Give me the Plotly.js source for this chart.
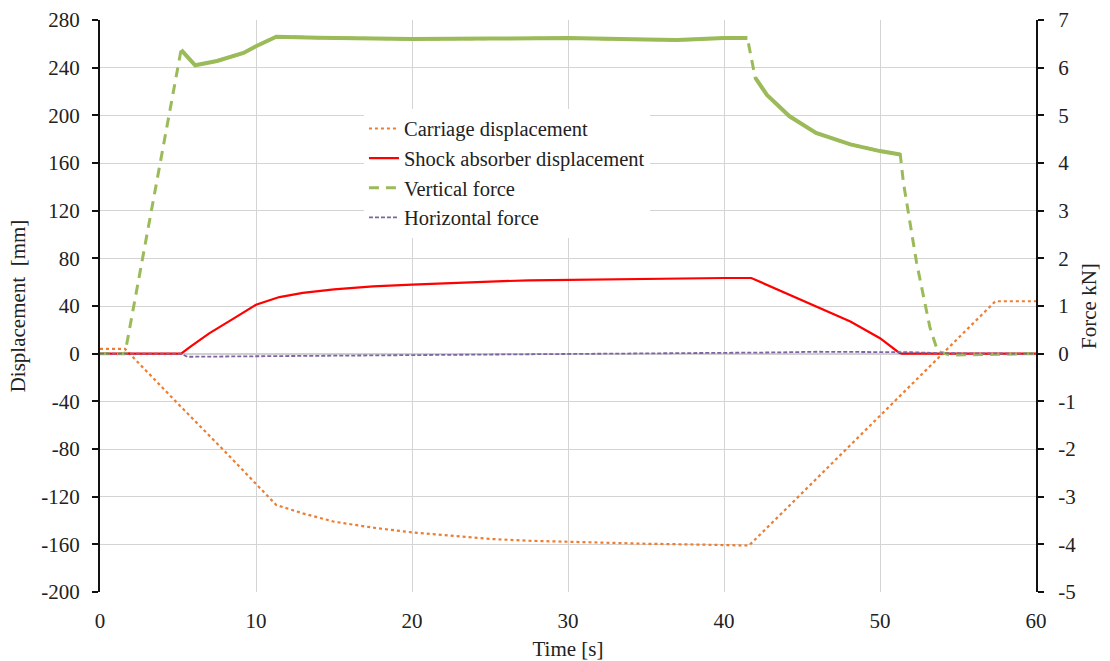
<!DOCTYPE html>
<html>
<head>
<meta charset="utf-8">
<script src="https://cdn.plot.ly/plotly-3.0.1.min.js"></script>
<style>html,body{margin:0;padding:0;background:#fff;}#chart{width:1110px;height:661px;}</style>
</head>
<body>
<div id="chart"></div>
<script>
// Carriage displacement [mm] (left axis)
const carT = [0, 1.6, 5, 8, 11.3, 13, 15, 17.5, 20, 22.5, 25, 27.5, 30, 32.5, 35, 37.5, 40, 41.6, 44, 47, 50, 53, 55, 57.4, 60];
const carY = [4, 4, -42, -82, -127, -134, -141, -146, -150, -153, -155.5, -157, -158, -159, -159.5, -160, -160.7, -161, -130, -91, -52, -13, 13, 44, 44];

// Shock absorber displacement [mm] (left axis)
const shT = [0, 5.2, 5.8, 7, 8.5, 10, 11.5, 13, 15, 17.5, 20, 22.5, 25, 27.5, 30, 35, 40, 41.75, 43.6, 45.5, 48.1, 50, 51.2, 51.4, 60];
const shY = [0, 0, 6, 17, 29, 41, 47.5, 51, 54, 56.5, 58, 59.5, 60.5, 61.5, 62, 63, 63.5, 63.5, 53, 42.4, 27, 13, 1, 0, 0];

// Vertical force [kN] (right axis)
const vfT = [0, 1.6, 5.2, 6.1, 7.5, 9.2, 10, 11.3, 14, 20, 25, 30, 35, 37, 40, 41.5, 42, 42.75, 44.2, 45.9, 48.1, 50, 51.3, 51.5, 52.35, 53.2, 53.7, 54.5, 60];
const vfY = [0, 0, 6.375, 6.05, 6.14, 6.31, 6.45, 6.65, 6.63, 6.6, 6.61, 6.62, 6.59, 6.58, 6.62, 6.62, 5.79, 5.43, 4.98, 4.63, 4.39, 4.25, 4.18, 3.59, 1.9, 0.55, 0.05, -0.03, 0];

// Horizontal force [kN] (right axis)
const hfT = [0, 5.2, 5.6, 8, 10, 12, 16, 20, 25, 30, 35, 40, 43, 46, 50, 52, 54, 57, 60];
const hfY = [0, 0, -0.065, -0.06, -0.06, -0.05, -0.04, -0.03, -0.02, -0.01, 0, 0.01, 0.025, 0.04, 0.04, 0.03, 0.01, 0, 0];

// Tick values and labels
const xTicks = [0, 10, 20, 30, 40, 50, 60];
const yTicks = [-200, -160, -120, -80, -40, 0, 40, 80, 120, 160, 200, 240, 280];
const yTickText = ['-200', '-160', '-120', '-80', '-40', '0', '40', '80', '120', '160', '200', '240', '280'];
const y2Ticks = [-5, -4, -3, -2, -1, 0, 1, 2, 3, 4, 5, 6, 7];
const y2TickText = ['-5', '-4', '-3', '-2', '-1', '0', '1', '2', '3', '4', '5', '6', '7'];

// noisy (visually solid) stretches of the vertical force record
const solidRanges = [[5.2, 41.5], [42, 51.3]];
const vsT = [], vsY = [];
solidRanges.forEach(function (r, k) {
  if (k > 0) { vsT.push(null); vsY.push(null); }
  vfT.forEach(function (t, i) { if (t >= r[0] && t <= r[1]) { vsT.push(t); vsY.push(vfY[i]); } });
});

const FONT = 'Liberation Serif';
const TXT = '#222';
const GREEN = '#9bbb59', ORANGE = '#ed7d31', RED = '#ff0000', PURPLE = '#7f64a2';
const tf = {family: FONT, size: 21, color: TXT};

const traces = [
  {x: carT, y: carY, name: 'Carriage displacement', mode: 'lines', legendgroup: 'a',
   line: {color: ORANGE, width: 2.2, dash: 'dot'}},
  {x: shT, y: shY, name: 'Shock absorber displacement', mode: 'lines', legendgroup: 'b',
   line: {color: RED, width: 2.2}},
  {x: vfT, y: vfY, name: 'Vertical force', mode: 'lines', yaxis: 'y2', legendgroup: 'c',
   line: {color: GREEN, width: 3, dash: '10px,7px'}},
  {x: vsT, y: vsY, name: 'Vertical force', mode: 'lines', yaxis: 'y2', showlegend: false, legendgroup: 'c',
   line: {color: GREEN, width: 4}, connectgaps: false},
  {x: hfT, y: hfY, name: 'Horizontal force', mode: 'lines', yaxis: 'y2', legendgroup: 'd',
   line: {color: PURPLE, width: 1.8, dash: '4px,2px'}}
];

const layout = {
  width: 1110, height: 661,
  margin: {l: 100, r: 74, t: 20, b: 69},
  paper_bgcolor: '#fff', plot_bgcolor: '#fff',
  font: {family: FONT, size: 21, color: TXT},
  showlegend: true,
  legend: {x: 0.282, y: 0.845, xanchor: 'left', yanchor: 'top', bgcolor: '#fff',
           font: {family: FONT, size: 20.5, color: TXT}, tracegroupgap: 3, traceorder: 'normal'},
  xaxis: {range: [0, 60], tickvals: xTicks, ticktext: xTicks.map(String), tickfont: tf,
          showgrid: true, gridcolor: '#d4d4d4', gridwidth: 1,
          zeroline: false, showline: false, ticks: '', ticklabelstandoff: 14,
          title: {text: 'Time [s]', standoff: 10, font: tf}, automargin: false},
  yaxis: {range: [-200, 280], tickvals: yTicks, ticktext: yTickText, tickfont: tf,
          showgrid: true, gridcolor: '#d4d4d4', gridwidth: 1,
          zeroline: true, zerolinecolor: '#d0d0d0', zerolinewidth: 2,
          showline: true, linecolor: '#111', linewidth: 2, ticks: 'outside', ticklen: 6, tickwidth: 2, tickcolor: '#111',
          ticklabelstandoff: 8,
          title: {text: 'Displacement  [mm]', standoff: 10, font: tf}, automargin: false},
  yaxis2: {range: [-5, 7], tickvals: y2Ticks, ticktext: y2TickText, tickfont: tf,
           overlaying: 'y', side: 'right', showgrid: false, zeroline: false,
           showline: true, linecolor: '#111', linewidth: 2, ticks: 'outside', ticklen: 6, tickwidth: 2, tickcolor: '#111',
           ticklabelstandoff: 10,
           title: {text: 'Force kN]', standoff: 6, font: tf}, automargin: false}
};

Plotly.newPlot('chart', traces, layout, {displayModeBar: false, staticPlot: true});
</script>
</body>
</html>
